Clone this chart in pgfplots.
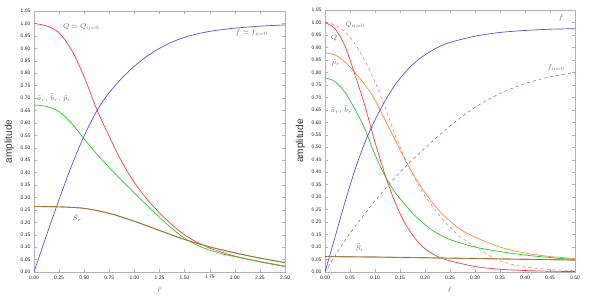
\documentclass[border=0pt]{standalone}
\usepackage{fontspec}
\setmainfont{Liberation Serif}
\setsansfont{Liberation Sans}
\usepackage{pgfplots}
\pgfplotsset{compat=1.18}
\definecolor{cred}{RGB}{250,60,60}
\definecolor{cblue}{RGB}{80,80,250}
\definecolor{cgreen}{RGB}{40,200,40}
\definecolor{corange}{RGB}{255,140,60}
\definecolor{cbrown}{RGB}{150,100,35}
\definecolor{ctan}{RGB}{205,175,130}
\tikzset{ann/.style={font=\fontsize{7.5}{9}\selectfont, text=black!60, inner sep=0pt}}
\pgfplotsset{
  myax/.style={
    scale only axis,
    axis line style={gray!60, line width=0.5pt},
    tick style={gray!60, line width=0.4pt},
    major tick length=3pt,
    tick align=inside,
    ymin=0, ymax=1.05,
    ytick={0,0.05,...,1.051},
    tick label style={font=\fontsize{5}{6}\selectfont\sffamily, text=black!85},
    xticklabel style={/pgf/number format/.cd, fixed, fixed zerofill, precision=2, assume math mode=true},
    yticklabel style={/pgf/number format/.cd, fixed, fixed zerofill, precision=2, assume math mode=true},
    ylabel={amplitude},
    ylabel style={font=\fontsize{10}{11}\selectfont\sffamily, text=black!80, anchor=center},
    xlabel={$\tilde r$},
    xlabel style={font=\fontsize{8}{9}\selectfont, text=black!60},
    every axis plot/.append style={line width=0.7pt},
    clip=true,
  },
}
\begin{document}
\begin{tikzpicture}
\path[use as bounding box] (0,0) rectangle (591pt,298pt);
% ---------------- left panel ----------------
\begin{axis}[myax, at={(34pt,26pt)}, anchor=south west, width=251pt, height=261pt,
  xmin=0, xmax=2.5, xtick={0,0.25,...,2.51},
  ylabel style={at={(axis description cs:-0.098,0.5)}},
  xlabel style={at={(axis description cs:0.5,-0.045)}}]
% Q (red)
\addplot[cred, smooth] coordinates {(0,1.0) (0.125,0.99) (0.25,0.962) (0.375,0.893) (0.5,0.785) (0.625,0.655) (0.75,0.545) (0.875,0.443) (1.0,0.36) (1.125,0.293) (1.25,0.238) (1.375,0.19) (1.5,0.149) (1.625,0.12) (1.75,0.096) (1.875,0.079) (2.0,0.064) (2.125,0.052) (2.25,0.041) (2.375,0.031) (2.5,0.022)};
% a,b,p (green)
\addplot[cgreen, smooth] coordinates {(0,0.672) (0.125,0.666) (0.25,0.645) (0.375,0.598) (0.5,0.535) (0.625,0.475) (0.75,0.42) (0.875,0.368) (1.0,0.318) (1.125,0.268) (1.25,0.22) (1.375,0.175) (1.5,0.136) (1.625,0.108) (1.75,0.088) (1.875,0.073) (2.0,0.062) (2.125,0.052) (2.25,0.042) (2.375,0.033) (2.5,0.024)};
% f (blue)
\addplot[cblue, smooth] coordinates {(0,0) (0.125,0.148) (0.25,0.292) (0.375,0.428) (0.5,0.548) (0.625,0.648) (0.75,0.722) (0.875,0.78) (1.0,0.828) (1.125,0.868) (1.25,0.9) (1.375,0.925) (1.5,0.944) (1.625,0.958) (1.75,0.968) (1.875,0.975) (2.0,0.981) (2.25,0.989) (2.5,0.994)};
% S (brown)
\addplot[ctan, line width=1.2pt, smooth] coordinates {(0,0.263) (0.25,0.262) (0.5,0.256) (0.75,0.236) (1.0,0.204) (1.25,0.167) (1.5,0.131) (1.75,0.101) (2.0,0.077) (2.25,0.056) (2.5,0.038)};
\addplot[cbrown, line width=0.6pt, smooth] coordinates {(0,0.263) (0.25,0.262) (0.5,0.256) (0.75,0.236) (1.0,0.204) (1.25,0.167) (1.5,0.131) (1.75,0.101) (2.0,0.077) (2.25,0.056) (2.5,0.038)};
\node[ann] at (axis cs:0.47,0.985) {$Q\simeq Q_{\eta=0}$};
\node[ann] at (axis cs:2.17,0.961) {$f\simeq f_{\eta=0}$};
\node[ann, anchor=west] at (axis cs:0.03,0.70) {$\tilde a_r,\,\tilde b_r,\,\tilde p_r$};
\node[ann] at (axis cs:0.43,0.217) {$\tilde S_r$};
\end{axis}
% ---------------- right panel ----------------
\begin{axis}[myax, at={(325pt,26pt)}, anchor=south west, width=250pt, height=262pt,
  xmin=0, xmax=0.5, xtick={0,0.05,...,0.501},
  ylabel style={at={(axis description cs:-0.098,0.5)}},
  xlabel style={at={(axis description cs:0.5,-0.045)}}]
% Q eta=0 (dashed red)
\addplot[cred!70, dashed, line width=0.6pt, smooth] coordinates {(0,1.0) (0.02,0.99) (0.04,0.962) (0.06,0.915) (0.08,0.845) (0.1,0.762) (0.12,0.66) (0.14,0.55) (0.16,0.455) (0.18,0.375) (0.2,0.305) (0.22,0.25) (0.24,0.2) (0.27,0.142) (0.3,0.103) (0.325,0.07) (0.35,0.045) (0.375,0.03) (0.4,0.02) (0.45,0.01) (0.5,0.005)};
% f eta=0 (dashed blue)
\addplot[cblue!80, dashed, line width=0.6pt, smooth] coordinates {(0,0) (0.02,0.065) (0.05,0.155) (0.1,0.285) (0.15,0.40) (0.2,0.497) (0.25,0.585) (0.3,0.66) (0.35,0.715) (0.4,0.755) (0.45,0.782) (0.5,0.80)};
% p (orange)
\addplot[corange, smooth] coordinates {(0,0.878) (0.02,0.87) (0.04,0.842) (0.06,0.80) (0.08,0.75) (0.1,0.69) (0.12,0.61) (0.14,0.53) (0.16,0.45) (0.18,0.38) (0.2,0.318) (0.22,0.265) (0.24,0.222) (0.27,0.172) (0.3,0.14) (0.35,0.1) (0.4,0.076) (0.45,0.062) (0.5,0.054)};
% a,b (green)
\addplot[cgreen, smooth] coordinates {(0,0.779) (0.02,0.763) (0.04,0.72) (0.06,0.652) (0.08,0.572) (0.1,0.47) (0.12,0.385) (0.14,0.32) (0.16,0.27) (0.18,0.226) (0.2,0.19) (0.22,0.16) (0.25,0.13) (0.3,0.1) (0.35,0.082) (0.4,0.068) (0.45,0.058) (0.5,0.05)};
% Q (red)
\addplot[cred, smooth] coordinates {(0,1.0) (0.02,0.975) (0.04,0.905) (0.06,0.79) (0.08,0.665) (0.1,0.52) (0.12,0.39) (0.14,0.28) (0.16,0.195) (0.18,0.135) (0.2,0.093) (0.225,0.062) (0.25,0.045) (0.3,0.022) (0.35,0.011) (0.4,0.006) (0.45,0.003) (0.5,0.002)};
% f (blue)
\addplot[cblue, smooth] coordinates {(0,0) (0.02,0.14) (0.04,0.28) (0.06,0.41) (0.08,0.52) (0.1,0.61) (0.12,0.685) (0.14,0.75) (0.16,0.80) (0.18,0.84) (0.2,0.87) (0.225,0.9) (0.25,0.92) (0.3,0.945) (0.35,0.96) (0.4,0.968) (0.45,0.973) (0.5,0.975)};
% S (brown)
\addplot[ctan, line width=1.2pt] coordinates {(0,0.062) (0.1,0.06) (0.2,0.057) (0.3,0.054) (0.4,0.051) (0.5,0.048)};
\addplot[cbrown, line width=0.6pt] coordinates {(0,0.062) (0.1,0.06) (0.2,0.057) (0.3,0.054) (0.4,0.051) (0.5,0.048)};
\node[ann] at (axis cs:0.06,0.989) {$Q_{\eta=0}$};
\node[ann] at (axis cs:0.018,0.937) {$Q$};
\node[ann] at (axis cs:0.022,0.837) {$\tilde p_r$};
\node[ann] at (axis cs:0.033,0.65) {$\tilde a_r,\,\tilde b_r$};
\node[ann] at (axis cs:0.472,1.017) {$f$};
\node[ann] at (axis cs:0.462,0.817) {$f_{\eta=0}$};
\node[ann] at (axis cs:0.07,0.097) {$\tilde S_r$};
\end{axis}
\end{tikzpicture}
\end{document}
